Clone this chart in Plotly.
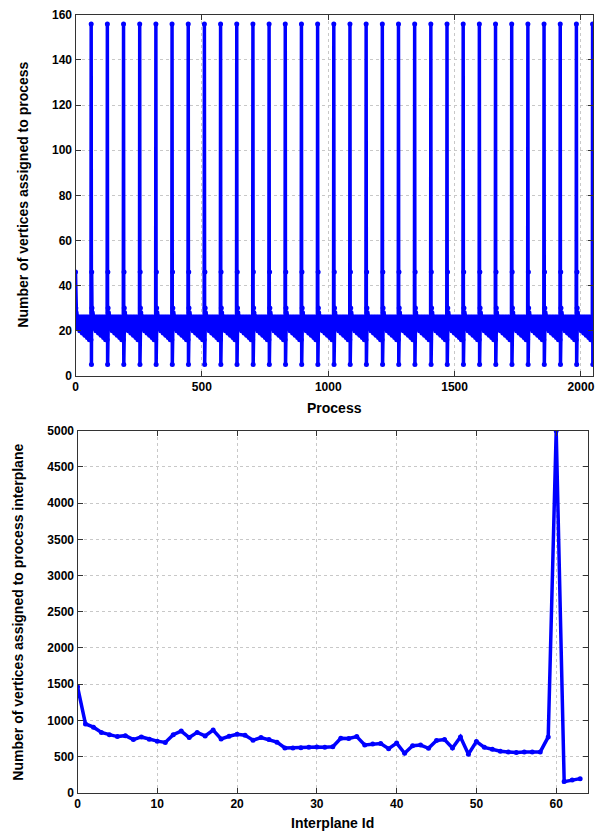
import plotly.graph_objects as go

# Vertices per process: the 2048 processes form 32 identical blocks of 64.
# Each block starts high, settles into an oscillating band and ends with
# one overloaded process followed by one nearly empty process.
block_pattern = [
    46, 30, 28, 27, 26, 25, 26, 24, 25, 22, 26, 21, 25, 22, 24, 21,
    26, 20, 25, 21, 24, 20, 26, 21, 25, 20, 24, 19, 26, 20, 25, 19,
    24, 20, 26, 19, 25, 18, 24, 19, 26, 18, 25, 19, 24, 18, 26, 17,
    25, 18, 24, 17, 26, 17, 25, 16, 24, 17, 25, 16, 24, 16, 156, 5,
]
n_blocks = 32
vertices_per_process = block_pattern * n_blocks
process_ids = list(range(len(vertices_per_process)))

# Vertices per interplane (64 interplanes)
interplane_ids = list(range(64))
vertices_per_interplane = [
    1464, 950, 905, 833, 802, 775, 788, 734, 770, 739,
    712, 694, 802, 851, 761, 833, 784, 865, 743, 779,
    806, 793, 725, 761, 734, 698, 617, 617, 622, 626,
    631, 626, 635, 752, 748, 775, 658, 671, 680, 608,
    685, 545, 649, 658, 613, 721, 734, 617, 770, 532,
    707, 626, 599, 572, 563, 554, 563, 563, 563, 770,
    5000, 153, 176, 194,
]

BLUE = "#0000ff"
FONT = "Liberation Sans"

fig = go.Figure()

fig.add_trace(go.Scatter(
    x=process_ids, y=vertices_per_process, mode="lines+markers",
    line=dict(color=BLUE, width=3.5),
    marker=dict(color=BLUE, size=5, symbol="circle"),
    xaxis="x", yaxis="y", showlegend=False, hoverinfo="x+y",
))

fig.add_trace(go.Scatter(
    x=interplane_ids, y=vertices_per_interplane, mode="lines+markers",
    line=dict(color=BLUE, width=3.5),
    marker=dict(color=BLUE, size=5, symbol="circle"),
    xaxis="x2", yaxis="y2", showlegend=False, hoverinfo="x+y",
))

W, H = 606, 839

def axis_style(**kw):
    base = dict(
        showline=True, linecolor="#333333", linewidth=1.2, mirror="ticks",
        ticks="inside", ticklen=5, tickwidth=1, tickcolor="#333333",
        showgrid=True, gridcolor="#c8c8c8", gridwidth=1, griddash="dot",
        zeroline=False,
        tickfont=dict(family=FONT, size=12, color="black", weight="bold"),
    )
    base.update(kw)
    return base

fig.update_layout(
    width=W, height=H, autosize=False,
    margin=dict(l=0, r=0, t=0, b=0),
    paper_bgcolor="white", plot_bgcolor="white",
    xaxis=axis_style(
        domain=[73 / W, 594 / W], anchor="y",
        range=[0, 2048], tickmode="array",
        tickvals=[0, 500, 1000, 1500, 2000],
    ),
    yaxis=axis_style(
        domain=[(H - 375) / H, (H - 8) / H], anchor="x",
        range=[0, 160], tickmode="array",
        tickvals=list(range(0, 161, 20)),
    ),
    xaxis2=axis_style(
        domain=[75 / W, 589 / W], anchor="y2",
        range=[0, 64], tickmode="array",
        tickvals=list(range(0, 61, 10)),
    ),
    yaxis2=axis_style(
        domain=[(H - 799) / H, (H - 431) / H], anchor="x2",
        range=[0, 5000], tickmode="array",
        tickvals=list(range(0, 5001, 500)),
    ),
)

title_font = dict(family=FONT, size=14, color="black", weight="bold")

annotations = [
    dict(text="Process", x=(73 + 594) / 2 / W, y=(H - 408) / H,
         xref="paper", yref="paper", showarrow=False, font=title_font,
         xanchor="center", yanchor="middle"),
    dict(text="Number of vertices assigned to process", x=20 / W,
         y=(H - 191) / H, xref="paper", yref="paper", showarrow=False,
         font=title_font, textangle=-90, xanchor="center", yanchor="middle"),
    dict(text="Interplane Id", x=(75 + 589) / 2 / W, y=(H - 830) / H,
         xref="paper", yref="paper", showarrow=False, font=title_font,
         xanchor="center", yanchor="middle"),
    dict(text="Number of vertices assigned to process interplane",
         x=15 / W, y=(H - 615) / H, xref="paper", yref="paper",
         showarrow=False, font=title_font, textangle=-90,
         xanchor="center", yanchor="middle"),
]
fig.update_layout(annotations=annotations)

fig.write_html("out.html")
